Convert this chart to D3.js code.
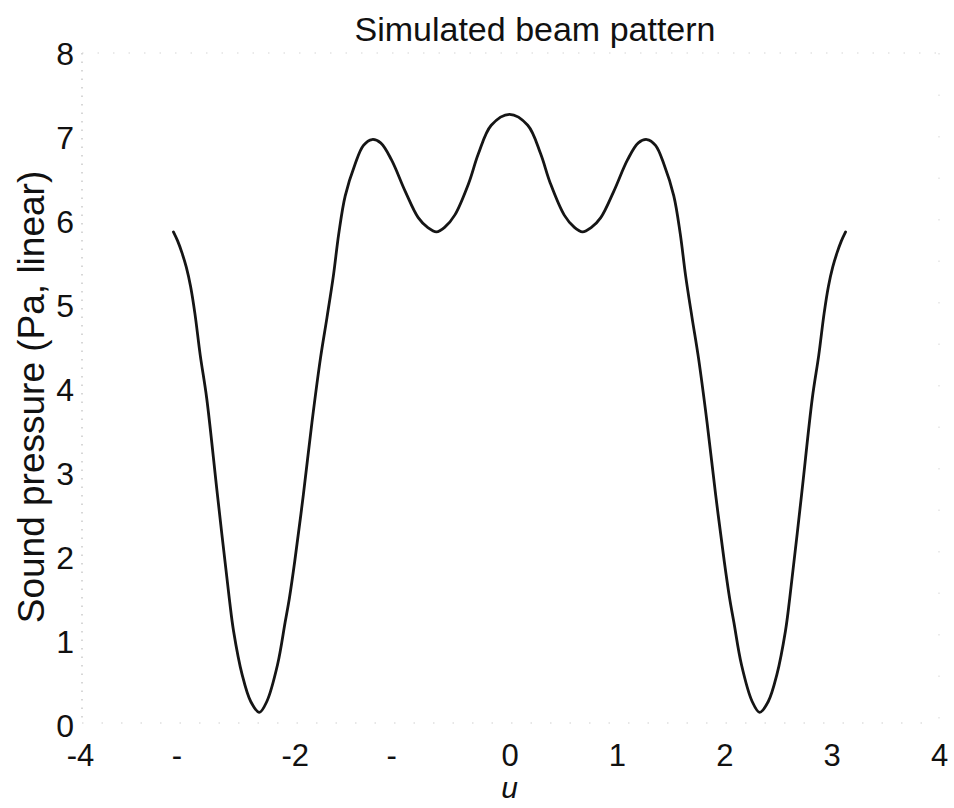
<!DOCTYPE html>
<html>
<head>
<meta charset="utf-8">
<script src="https://cdn.jsdelivr.net/npm/d3@7"></script>
<style>
  html, body { margin: 0; padding: 0; background: #fff; }
  svg { display: block; }
  text { font-family: "Liberation Sans", Arial, Helvetica, sans-serif; fill: #111; }
</style>
</head>
<body>
<svg id="chart" width="954" height="808"></svg>
<script>
// Beam pattern samples: spatial variable u and sound pressure (Pa, linear)
const uValues = [
  -3.13, -3.09, -3.05, -3.01, -2.97, -2.93, -2.88, -2.82, -2.72, -2.61, -2.57, -2.49,
  -2.41, -2.33, -2.26, -2.16, -2.09, -2.05, -2.00, -1.92, -1.84, -1.76, -1.70, -1.64,
  -1.59, -1.53, -1.44, -1.36, -1.28, -1.20, -1.10, -0.97, -0.85, -0.76, -0.68, -0.60,
  -0.51, -0.38, -0.29, -0.17, 0.00, 0.17, 0.29, 0.38, 0.51, 0.60, 0.68, 0.76,
  0.85, 0.97, 1.10, 1.20, 1.28, 1.36, 1.44, 1.53, 1.59, 1.64, 1.70, 1.76,
  1.84, 1.92, 2.00, 2.05, 2.09, 2.16, 2.26, 2.33, 2.41, 2.49, 2.57, 2.61,
  2.72, 2.82, 2.88, 2.93, 2.97, 3.01, 3.05, 3.09, 3.13
];
const pressure = [
  5.87, 5.76, 5.62, 5.45, 5.22, 4.90, 4.40, 3.89, 2.74, 1.51, 1.12, 0.60,
  0.28, 0.15, 0.28, 0.72, 1.22, 1.51, 1.95, 2.74, 3.60, 4.37, 4.85, 5.35,
  5.85, 6.30, 6.67, 6.90, 6.97, 6.93, 6.73, 6.35, 6.04, 5.92, 5.87, 5.93,
  6.07, 6.45, 6.80, 7.14, 7.27, 7.14, 6.80, 6.45, 6.07, 5.93, 5.87, 5.92,
  6.04, 6.35, 6.73, 6.93, 6.97, 6.90, 6.67, 6.30, 5.85, 5.35, 4.85, 4.37,
  3.60, 2.74, 1.95, 1.51, 1.22, 0.72, 0.28, 0.15, 0.28, 0.60, 1.12, 1.51,
  2.74, 3.89, 4.40, 4.90, 5.22, 5.45, 5.62, 5.76, 5.87
];

// Axis ticks and their printed labels
const xTicks = [-4, -3, -2, -1, 0, 1, 2, 3, 4];
const xTickLabels = ["-4", "-", "-2", "-", "0", "1", "2", "3", "4"];
const yTicks = [0, 1, 2, 3, 4, 5, 6, 7, 8];
const yTickLabels = ["0", "1", "2", "3", "4", "5", "6", "7", "8"];

const titleText = "Simulated beam pattern";
const xLabelText = "u";
const yLabelText = "Sound pressure (Pa, linear)";

const svg = d3.select("#chart");
const plot = { left: 80, right: 939, top: 53, bottom: 725 };

const x = d3.scaleLinear().domain([-4, 4]).range([plot.left, plot.right]);
const y = d3.scaleLinear().domain([0, 8]).range([plot.bottom, plot.top]);

const points = uValues.map((u, i) => ({ u, p: pressure[i] }));

// Faint dotted axes box
const frame = svg.append("g")
  .attr("fill", "none")
  .attr("stroke", "#bdbdbd")
  .attr("stroke-width", 1.2)
  .attr("stroke-dasharray", "1.5,7");
frame.append("line").attr("x1", x(-4) + 2).attr("x2", x(-4) + 2).attr("y1", y(8)).attr("y2", y(0) - 2);
frame.append("line").attr("x1", x(-4) + 2).attr("x2", x(4)).attr("y1", y(0) - 2).attr("y2", y(0) - 2)
  .attr("stroke", "#d0d0d0").attr("stroke-dasharray", "1.5,18");
frame.append("line").attr("x1", x(-4) + 2).attr("x2", x(4)).attr("y1", y(8)).attr("y2", y(8))
  .attr("stroke", "#d6d6d6").attr("stroke-dasharray", "1.5,14");
frame.append("line").attr("x1", x(4)).attr("x2", x(4)).attr("y1", y(8)).attr("y2", y(0) - 2)
  .attr("stroke", "#dedede").attr("stroke-dasharray", "1.5,40");

// Bottom axis labels
const xAxis = d3.axisBottom(x)
  .tickValues(xTicks)
  .tickSize(0)
  .tickPadding(0)
  .tickFormat((d, i) => xTickLabels[i]);
const gx = svg.append("g")
  .attr("transform", `translate(0, ${y(0)})`)
  .call(xAxis);
gx.select(".domain").remove();
gx.selectAll("text")
  .attr("font-size", 31)
  .attr("fill", "#111")
  .attr("y", 41)
  .attr("dy", 0)
  .attr("dx", (d, i) => xTickLabels[i] === "-" ? -11 : 0);

// Left axis labels
const yAxis = d3.axisLeft(y)
  .tickValues(yTicks)
  .tickSize(0)
  .tickPadding(0)
  .tickFormat((d, i) => yTickLabels[i]);
const gy = svg.append("g")
  .attr("transform", `translate(${x(-4) - 6}, 0)`)
  .call(yAxis);
gy.select(".domain").remove();
gy.selectAll("text")
  .attr("font-size", 32)
  .attr("fill", "#111")
  .attr("dy", "0.36em");

// Beam pattern curve
const line = d3.line()
  .x(d => x(d.u))
  .y(d => y(d.p))
  .curve(d3.curveCatmullRom.alpha(0.5));

svg.append("path")
  .datum(points)
  .attr("fill", "none")
  .attr("stroke", "#151515")
  .attr("stroke-width", 2.8)
  .attr("stroke-linejoin", "round")
  .attr("stroke-linecap", "round")
  .attr("d", line);

// Titles
svg.append("text")
  .attr("x", 535)
  .attr("y", 41)
  .attr("text-anchor", "middle")
  .attr("font-size", 34)
  .text(titleText);

svg.append("text")
  .attr("x", x(0))
  .attr("y", 798)
  .attr("text-anchor", "middle")
  .attr("font-size", 30)
  .attr("font-style", "italic")
  .text(xLabelText);

svg.append("text")
  .attr("transform", `translate(44, ${(y(0) + y(8)) / 2 + 8}) rotate(-90)`)
  .attr("text-anchor", "middle")
  .attr("font-size", 37)
  .text(yLabelText);
</script>
</body>
</html>
